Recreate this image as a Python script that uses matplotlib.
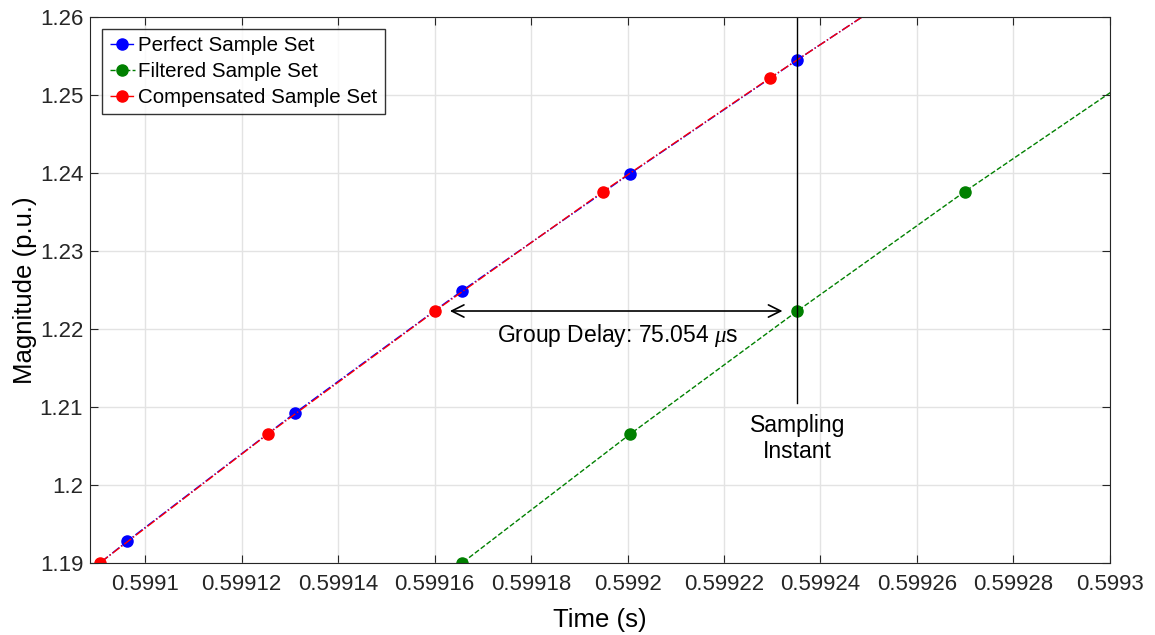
import matplotlib
matplotlib.use('Agg')
import matplotlib.pyplot as plt

plt.rcParams['font.family'] = ['Liberation Sans', 'DejaVu Sans']
plt.rcParams['mathtext.fontset'] = 'custom'
plt.rcParams['mathtext.it'] = 'Liberation Serif:italic'

# sampled points (s, p.u.), first/last are outside the view so the lines run off the axes
t_perfect = [0.5990616, 0.5990963, 0.5991310, 0.5991657, 0.5992005, 0.5992352, 0.5992699]
v_perfect = [1.1756, 1.1928, 1.2092, 1.2249, 1.2399, 1.2545, 1.2687]
t_filtered = [0.5991310, 0.5991657, 0.5992005, 0.5992352, 0.5992699, 0.5993046]
v_filtered = [1.1727, 1.1900, 1.2065, 1.2223, 1.2376, 1.2522]
t_comp = [0.5990559, 0.5990906, 0.5991254, 0.5991601, 0.5991949, 0.5992296, 0.5992643]
v_comp = [1.1727, 1.1900, 1.2065, 1.2223, 1.2376, 1.2522, 1.2664]

delay_label = 'Group Delay: 75.054 $\\mu$s'
t_sample = 0.5992352
xticks = [0.5991, 0.59912, 0.59914, 0.59916, 0.59918, 0.5992, 0.59922, 0.59924, 0.59926, 0.59928, 0.5993]
xtick_labels = ['0.5991', '0.59912', '0.59914', '0.59916', '0.59918', '0.5992', '0.59922',
                '0.59924', '0.59926', '0.59928', '0.5993']
yticks = [1.19, 1.20, 1.21, 1.22, 1.23, 1.24, 1.25, 1.26]
ytick_labels = ['1.19', '1.2', '1.21', '1.22', '1.23', '1.24', '1.25', '1.26']

fig = plt.figure(figsize=(11.55, 6.35), dpi=100)
ax = fig.add_axes([0.078, 0.1134, 0.883, 0.860])

ax.plot(t_perfect, v_perfect, '-.', color='blue', lw=1, marker='o', ms=8, label='Perfect Sample Set')
ax.plot(t_filtered, v_filtered, '--', color='green', lw=1, marker='o', ms=8, label='Filtered Sample Set')
ax.plot(t_comp, v_comp, '-.', color='red', lw=1, marker='o', ms=8, label='Compensated Sample Set')

# double arrow showing the delay
ax.annotate('', xy=(t_comp[3] + 0.0000025, v_comp[3]), xytext=(t_sample - 0.0000025, v_comp[3]),
            arrowprops=dict(arrowstyle='<->', color='black', lw=1.2, mutation_scale=22))
ax.text(0.599198, 1.2192, delay_label, ha='center', va='center', fontsize=16.5)

# sampling instant marker
ax.plot([t_sample, t_sample], [1.2105, 1.26], color='black', lw=1)
ax.text(t_sample, 1.2091, 'Sampling\nInstant', ha='center', va='top', fontsize=16.5, linespacing=1.15)

ax.set_xlim(0.5990886, 0.5993)
ax.set_ylim(1.19, 1.26)
ax.set_xticks(xticks)
ax.set_xticklabels(xtick_labels)
ax.set_yticks(yticks)
ax.set_yticklabels(ytick_labels)
ax.tick_params(labelsize=16, direction='in', length=6, top=True, right=True, colors='#262626')
ax.tick_params(axis='x', pad=8)
ax.tick_params(axis='y', pad=5)
ax.grid(True, color='#e3e3e3', lw=1)
ax.set_axisbelow(True)
for s in ax.spines.values():
    s.set_color('#262626')
ax.set_xlabel('Time (s)', fontsize=18.5, labelpad=9)
ax.set_ylabel('Magnitude (p.u.)', fontsize=18.5, labelpad=2)

leg = ax.legend(loc='upper left', fontsize=14.8, frameon=True, fancybox=False, edgecolor='black',
                handlelength=1.25, handletextpad=0.15, borderpad=0.35, labelspacing=0.33,
                borderaxespad=0.6)
leg.get_frame().set_linewidth(1)

fig.savefig('out.png', dpi=100)
